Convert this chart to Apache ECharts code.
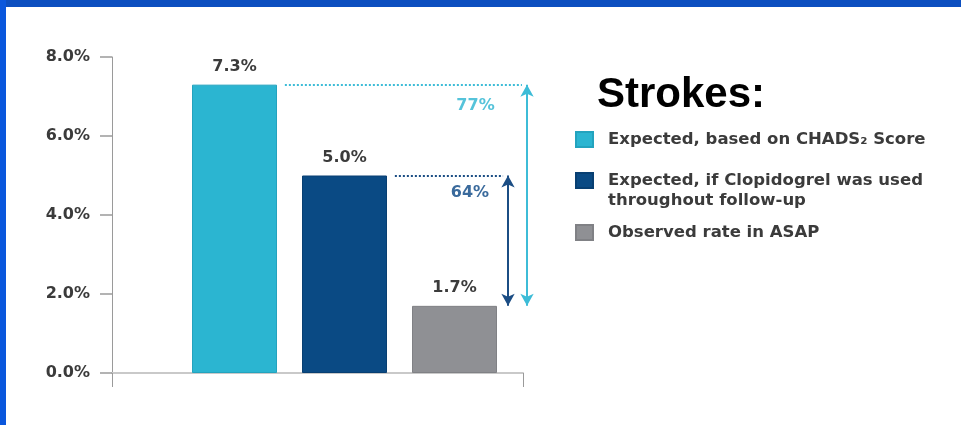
<!DOCTYPE html>
<html>
<head>
<meta charset="utf-8">
<script src="https://cdn.jsdelivr.net/npm/echarts/dist/echarts.min.js"></script>
<style>
  html, body { margin: 0; padding: 0; background: #ffffff; }
  #wrap { position: relative; width: 961px; height: 425px; overflow: hidden; }
  #chart { position: absolute; left: 0; top: 0; width: 961px; height: 425px; }
  .band-top { position: absolute; left: 0; top: 0; width: 961px; height: 7px; background: #0c4fc0; }
  .band-left { position: absolute; left: 0; top: 0; width: 6px; height: 425px; background: #0a57dd; }
</style>
</head>
<body>
<div id="wrap">
  <div id="chart"></div>
  <div class="band-top"></div>
  <div class="band-left"></div>
</div>
<script>
// Stroke rates (% per year)
const categories = ['Expected (CHADS₂)', 'Expected (Clopidogrel)', 'Observed (ASAP)'];
const seriesNames = [
  'Expected, based on CHADS₂ Score',
  'Expected, if Clopidogrel was used\nthroughout follow-up',
  'Observed rate in ASAP'
];
const strokeRates = [7.3, 5.0, 1.7];
const yTickValues = [0, 2, 4, 6, 8];
const reductionLabels = ['77%', '64%'];

// Styling
const barColors = ['#2bb5d1', '#0a4a84', '#8f9094'];
const barEdges = ['#23a3be', '#083f72', '#808185'];
const cyanNote = '#3dbcd7';
const cyanText = '#55c3da';
const navyNote = '#1b4d84';
const navyText = '#3a6a9c';
const labelFont = { fontFamily: 'DejaVu Sans', fontWeight: 'bold', fontSize: 16, color: '#3b3b3b' };

const chart = echarts.init(document.getElementById('chart'), null, { renderer: 'canvas' });

const barSeries = strokeRates.map((v, i) => ({
  name: seriesNames[i],
  type: 'bar',
  xAxisIndex: 1,
  yAxisIndex: 1,
  data: categories.map((c, j) => (j === i ? v : '-')),
  barWidth: 85,
  barGap: '-100%',
  itemStyle: { color: barColors[i], borderColor: barEdges[i], borderWidth: 1 },
  label: {
    show: true,
    position: 'top',
    distance: 10,
    formatter: p => Number(p.value).toFixed(1) + '%',
    ...labelFont
  },
  emphasis: { disabled: true }
}));

// Reduction annotations: dotted reference lines, double arrows and percent labels
function arrowLine(x, from, to, color) {
  return [
    { coord: [x, from], symbol: 'arrow', symbolSize: [10, 12], lineStyle: { color, width: 2, type: 'solid' } },
    { coord: [x, to], symbol: 'arrow', symbolSize: [10, 12] }
  ];
}
function dottedLine(x1, x2, y, color) {
  return [
    { coord: [x1, y], symbol: 'none', lineStyle: { color, width: 2, type: [2, 2] } },
    { coord: [x2, y], symbol: 'none' }
  ];
}

const noteSeries = {
  type: 'line',
  xAxisIndex: 2,
  yAxisIndex: 2,
  data: [],
  silent: true,
  markLine: {
    silent: true,
    animation: false,
    label: { show: false },
    emphasis: { disabled: true },
    data: [
      dottedLine(0.385, 0.913, strokeRates[0], cyanNote),
      arrowLine(0.9243, strokeRates[0], strokeRates[2], cyanNote),
      dottedLine(0.630, 0.871, strokeRates[1], navyNote),
      arrowLine(0.882, strokeRates[1], strokeRates[2], navyNote)
    ]
  },
  markPoint: {
    silent: true,
    animation: false,
    symbol: 'rect',
    symbolSize: 0,
    data: [
      {
        name: reductionLabels[0], coord: [0.8096, strokeRates[0]],
        label: { show: true, position: 'inside', offset: [0, 21], formatter: '{b}', ...labelFont, color: cyanText }
      },
      {
        name: reductionLabels[1], coord: [0.7973, strokeRates[1]],
        label: { show: true, position: 'inside', offset: [0, 17], formatter: '{b}', ...labelFont, color: navyText }
      }
    ]
  }
};

const legendTops = [129.5, 150.5, 222.5];

chart.setOption({
  animation: false,
  backgroundColor: '#ffffff',
  title: {
    text: 'Strokes:',
    left: 597,
    top: 74,
    padding: 0,
    textStyle: { fontFamily: 'Liberation Sans, Arial', fontWeight: 'bold', fontSize: 42, lineHeight: 42, color: '#000000' }
  },
  legend: seriesNames.map((n, i) => ({
    data: [n],
    left: 575,
    top: legendTops[i],
    orient: 'vertical',
    padding: 0,
    icon: 'rect',
    itemWidth: 17,
    itemHeight: 15,
    selectedMode: false,
    // multi-line entries get a blank leading line so the first line sits beside the swatch
    formatter: name => (name.indexOf('\n') >= 0 ? ' \n' + name : name),
    textStyle: {
      fontFamily: 'DejaVu Sans',
      fontWeight: 'bold',
      fontSize: 16.5,
      lineHeight: 20,
      color: '#3b3b3b',
      padding: [0, 0, 0, 10]
    }
  })),
  grid: [
    { left: 112, right: 438, top: 57, bottom: 52 },
    { left: 179.5, right: 451.5, top: 57, bottom: 52 },
    { left: 112, right: 400, top: 57, bottom: 52 }
  ],
  xAxis: [
    {
      gridIndex: 0,
      type: 'value',
      min: 0,
      max: 1,
      interval: 1,
      axisLine: { show: true, lineStyle: { color: '#c9c9c9', width: 2 } },
      axisTick: { show: true, length: 14, lineStyle: { color: '#9a9a9a', width: 1 } },
      axisLabel: { show: false },
      splitLine: { show: false }
    },
    { gridIndex: 1, type: 'category', data: categories, show: false },
    { gridIndex: 2, type: 'value', min: 0, max: 1, show: false, splitLine: { show: false } }
  ],
  yAxis: [
    {
      gridIndex: 0,
      type: 'value',
      min: yTickValues[0],
      max: yTickValues[yTickValues.length - 1],
      interval: yTickValues[1] - yTickValues[0],
      axisLine: { show: true, lineStyle: { color: '#9a9a9a', width: 1 } },
      axisTick: { show: true, length: 12, lineStyle: { color: '#9a9a9a', width: 1.5 } },
      axisLabel: {
        margin: 22,
        formatter: v => v.toFixed(1) + '%',
        ...labelFont
      },
      splitLine: { show: false }
    },
    {
      gridIndex: 1, type: 'value',
      min: yTickValues[0], max: yTickValues[yTickValues.length - 1],
      show: false, splitLine: { show: false }
    },
    {
      gridIndex: 2, type: 'value',
      min: yTickValues[0], max: yTickValues[yTickValues.length - 1],
      show: false, splitLine: { show: false }
    }
  ],
  series: [...barSeries, noteSeries]
});
</script>
</body>
</html>
